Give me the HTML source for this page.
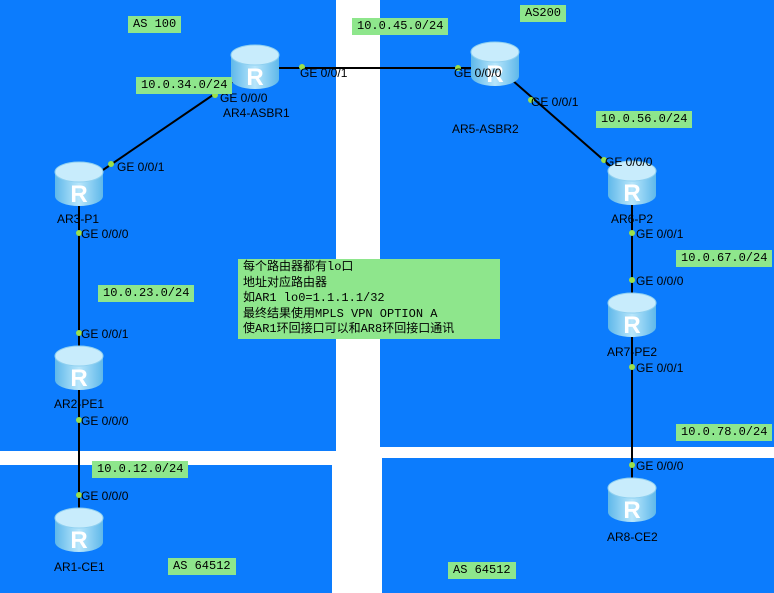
<!DOCTYPE html><html><head><style>
body{margin:0;width:774px;height:593px;background:#fff;position:relative;overflow:hidden;font-family:"Liberation Sans",sans-serif}
.b{position:absolute;background:#0c7cfd}
.g{position:absolute;background:#8ee68c;font:12px "Liberation Mono","Noto Sans CJK SC",monospace;color:#000;padding:1px 5px;line-height:15px}
</style></head><body>
<div class="b" style="left:0;top:0;width:336px;height:451px"></div>
<div class="b" style="left:380px;top:0;width:394px;height:447px"></div>
<div class="b" style="left:0;top:465px;width:332px;height:128px"></div>
<div class="b" style="left:382px;top:458px;width:392px;height:135px"></div>
<svg width="774" height="593" style="position:absolute;left:0;top:0">
<defs><linearGradient id="r" x1="0" y1="0" x2="1" y2="0"><stop offset="0" stop-color="#5fb8ea"/><stop offset="0.5" stop-color="#b8e6fb"/><stop offset="1" stop-color="#5fb8ea"/></linearGradient>
<g id="rt"><path d="M-24,-10 v24 a24,10 0 0 0 48,0 v-24 z" fill="url(#r)"/><ellipse cx="0" cy="-10" rx="24" ry="10" fill="#c8ecfc" stroke="#8fd0f0"/><text x="0" y="20" text-anchor="middle" font-size="24" font-weight="bold" fill="#fff" font-family="Liberation Sans">R</text></g></defs>
<g stroke="#000" stroke-width="2">
<line x1="255" y1="68" x2="495" y2="68"/><line x1="235" y1="80" x2="100" y2="172"/>
<line x1="512" y1="80" x2="615" y2="170"/><line x1="79" y1="200" x2="79" y2="360"/>
<line x1="79" y1="385" x2="79" y2="520"/><line x1="632" y1="200" x2="632" y2="305"/><line x1="632" y1="330" x2="632" y2="490"/></g>
<use href="#rt" x="255" y="65"/><use href="#rt" x="495" y="62"/><use href="#rt" x="79" y="182"/><use href="#rt" x="632" y="181"/>
<use href="#rt" x="79" y="366"/><use href="#rt" x="632" y="313"/><use href="#rt" x="79" y="528"/><use href="#rt" x="632" y="498"/>
<g fill="#9be04a"><circle cx="302" cy="67" r="3"/><circle cx="458" cy="68" r="3"/><circle cx="215" cy="95" r="3"/><circle cx="111" cy="164" r="3"/>
<circle cx="531" cy="100" r="3"/><circle cx="604" cy="160" r="3"/><circle cx="79" cy="233" r="3"/><circle cx="79" cy="333" r="3"/>
<circle cx="79" cy="420" r="3"/><circle cx="79" cy="495" r="3"/><circle cx="632" cy="233" r="3"/><circle cx="632" cy="280" r="3"/>
<circle cx="632" cy="367" r="3"/><circle cx="632" cy="465" r="3"/></g>
<g font-size="12" fill="#000" font-family="Liberation Sans">
<text x="300" y="77">GE 0/0/1</text><text x="454" y="77">GE 0/0/0</text><text x="220" y="102">GE 0/0/0</text><text x="117" y="171">GE 0/0/1</text>
<text x="531" y="106">GE 0/0/1</text><text x="605" y="166">GE 0/0/0</text><text x="81" y="238">GE 0/0/0</text><text x="81" y="338">GE 0/0/1</text>
<text x="81" y="425">GE 0/0/0</text><text x="81" y="500">GE 0/0/0</text><text x="636" y="238">GE 0/0/1</text><text x="636" y="285">GE 0/0/0</text>
<text x="636" y="372">GE 0/0/1</text><text x="636" y="470">GE 0/0/0</text>
<text x="223" y="117">AR4-ASBR1</text><text x="452" y="133">AR5-ASBR2</text><text x="57" y="223">AR3-P1</text><text x="611" y="223">AR6-P2</text>
<text x="54" y="408">AR2-PE1</text><text x="607" y="356">AR7-PE2</text><text x="54" y="571">AR1-CE1</text><text x="607" y="541">AR8-CE2</text></g>
</svg>
<div class="g" style="left:128px;top:16px">AS 100</div>
<div class="g" style="left:352px;top:18px">10.0.45.0/24</div>
<div class="g" style="left:520px;top:5px">AS200</div>
<div class="g" style="left:136px;top:77px">10.0.34.0/24</div>
<div class="g" style="left:596px;top:111px">10.0.56.0/24</div>
<div class="g" style="left:98px;top:285px">10.0.23.0/24</div>
<div class="g" style="left:676px;top:250px">10.0.67.0/24</div>
<div class="g" style="left:676px;top:424px">10.0.78.0/24</div>
<div class="g" style="left:92px;top:461px">10.0.12.0/24</div>
<div class="g" style="left:168px;top:558px">AS 64512</div>
<div class="g" style="left:448px;top:562px">AS 64512</div>
<div class="g" style="left:238px;top:259px;width:252px;height:78px;padding:1px 5px;line-height:15.5px">每个路由器都有lo口<br>地址对应路由器<br>如AR1 lo0=1.1.1.1/32<br>最终结果使用MPLS VPN OPTION A<br>使AR1环回接口可以和AR8环回接口通讯</div>
</body></html>
